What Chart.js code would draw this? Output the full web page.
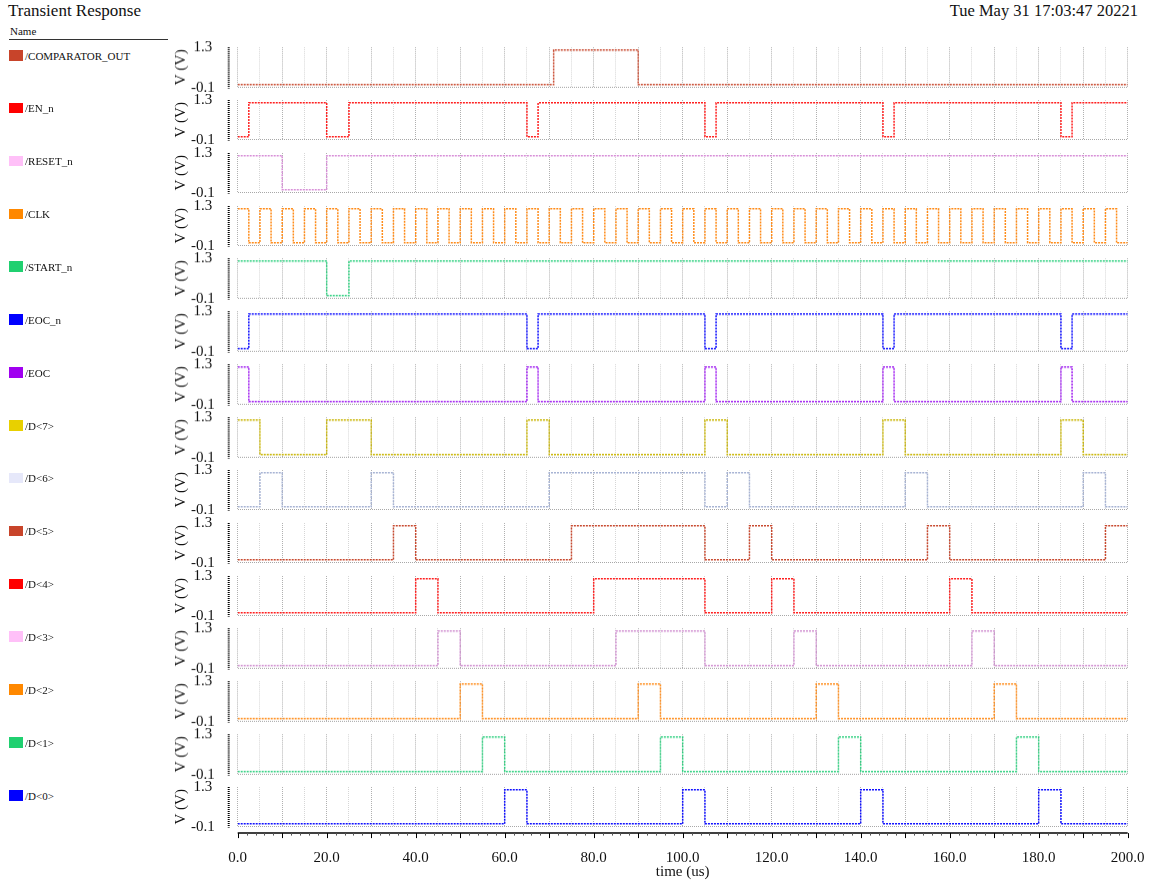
<!DOCTYPE html>
<html>
<head>
<meta charset="utf-8">
<script src="https://cdn.jsdelivr.net/npm/chart.js@4.4.1/dist/chart.umd.min.js"></script>
<style>
  body { margin: 0; background: #fff; font-family: 'Liberation Serif', serif; color: #111; }
  #page { position: relative; width: 1151px; height: 882px; overflow: hidden; }
  .hdr { position: absolute; white-space: nowrap; }
  .sw { position: absolute; left: 9px; width: 14px; height: 10.5px; }
  .lbl { position: absolute; left: 25px; font-size: 11px; line-height: 12px; white-space: nowrap; }
  .panel { position: absolute; left: 150px; width: 1001px; }
</style>
</head>
<body>
<div id="page">
  <div class="hdr" style="left:8px;top:1px;font-size:17px;">Transient Response</div>
  <div class="hdr" style="right:13px;top:1px;font-size:16.5px;">Tue May 31 17:03:47 20221</div>
  <div class="hdr" style="left:10px;top:25px;font-size:11px;">Name</div>
  <div style="position:absolute;left:9px;top:39px;width:159px;height:1px;background:#333;"></div>
</div>
<script>
// tiempos en us, niveles en V
const timeMin = 0;
const timeMax = 200;
const logicLow = 0;
const logicHigh = 1.2;
const voltTicks = [-0.1, 1.3];
const voltGrid = [-0.1, 0.7, 1.3];
const timeTicks = [0, 20, 40, 60, 80, 100, 120, 140, 160, 180, 200];

// intervalos en alto de cada señal [inicio, fin]
const comparatorOutHigh = [[71, 90]];
const enNHigh = [[2.5, 20], [25, 65], [67.5, 105], [107.5, 145], [147.5, 185], [187.5, 200]];
const resetNHigh = [[0, 10], [20, 200]];
const clkHigh = [[0, 2.5], [5, 7.5], [10, 12.5], [15, 17.5], [20, 22.5], [25, 27.5], [30, 32.5], [35, 37.5],
  [40, 42.5], [45, 47.5], [50, 52.5], [55, 57.5], [60, 62.5], [65, 67.5], [70, 72.5], [75, 77.5],
  [80, 82.5], [85, 87.5], [90, 92.5], [95, 97.5], [100, 102.5], [105, 107.5], [110, 112.5], [115, 117.5],
  [120, 122.5], [125, 127.5], [130, 132.5], [135, 137.5], [140, 142.5], [145, 147.5], [150, 152.5], [155, 157.5],
  [160, 162.5], [165, 167.5], [170, 172.5], [175, 177.5], [180, 182.5], [185, 187.5], [190, 192.5], [195, 197.5]];
const startNHigh = [[0, 20], [25, 200]];
const eocNHigh = [[2.5, 65], [67.5, 105], [107.5, 145], [147.5, 185], [187.5, 200]];
const eocHigh = [[0, 2.5], [65, 67.5], [105, 107.5], [145, 147.5], [185, 187.5]];
const d7High = [[0, 5], [20, 30], [65, 70], [105, 110], [145, 150], [185, 190]];
const d6High = [[5, 10], [30, 35], [70, 105], [110, 115], [150, 155], [190, 195]];
const d5High = [[35, 40], [75, 105], [115, 120], [155, 160], [195, 200]];
const d4High = [[40, 45], [80, 105], [120, 125], [160, 165]];
const d3High = [[45, 50], [85, 105], [125, 130], [165, 170]];
const d2High = [[50, 55], [90, 95], [130, 135], [170, 175]];
const d1High = [[55, 60], [95, 100], [135, 140], [175, 180]];
const d0High = [[60, 65], [100, 105], [140, 145], [180, 185]];

const signalNames = ['/COMPARATOR_OUT', '/EN_n', '/RESET_n', '/CLK', '/START_n', '/EOC_n', '/EOC',
  '/D<7>', '/D<6>', '/D<5>', '/D<4>', '/D<3>', '/D<2>', '/D<1>', '/D<0>'];
const signalData = [comparatorOutHigh, enNHigh, resetNHigh, clkHigh, startNHigh, eocNHigh, eocHigh,
  d7High, d6High, d5High, d4High, d3High, d2High, d1High, d0High];

const swatchColors = ['#c8442a', '#ff0000', '#ffc0f8', '#ff8800', '#20d070', '#0000ff', '#a000f0',
  '#e8d000', '#e6e8fa', '#c8442a', '#ff0000', '#ffc0f8', '#ff8800', '#20d070', '#0000ff'];
const lineColors = ['#c84a30', '#ff2020', '#d890d8', '#ff8c1a', '#30d080', '#1010ff', '#a020f0',
  '#c8b400', '#a8b4d4', '#c84a30', '#ff2020', '#d090d0', '#ff8c1a', '#30d080', '#1010ff'];

function toSteps(high) {
  const pts = [];
  let t = timeMin;
  high.forEach(([a, b]) => {
    if (a > t) pts.push({ x: t, y: logicLow });
    pts.push({ x: a, y: logicHigh });
    t = b;
  });
  if (t < timeMax) pts.push({ x: t, y: logicLow });
  pts.push({ x: timeMax, y: pts[pts.length - 1].y });
  return pts;
}

const rulerPlugin = {
  id: 'ruler',
  afterDraw(chart, args, opts) {
    const { ctx, chartArea: a } = chart;
    ctx.save();
    ctx.strokeStyle = '#000';
    ctx.lineWidth = 2;
    ctx.setLineDash([1, 1]);
    ctx.beginPath();
    ctx.moveTo(a.left - 9, a.top);
    ctx.lineTo(a.left - 9, a.bottom + 1);
    ctx.stroke();
    if (opts.bottomAxis) {
      const xs = chart.scales.x;
      const y = a.bottom + 6.5;
      ctx.setLineDash([]);
      ctx.lineWidth = 1.5;
      ctx.beginPath();
      ctx.moveTo(a.left, y);
      ctx.lineTo(a.right, y);
      ctx.stroke();
      ctx.lineWidth = 1;
      for (let t = timeMin; t <= timeMax; t += 2) {
        const px = Math.round(xs.getPixelForValue(t)) + 0.5;
        ctx.strokeStyle = t % 10 === 0 ? '#000' : '#555';
        ctx.beginPath();
        ctx.moveTo(px, y);
        ctx.lineTo(px, y + (t % 10 === 0 ? 5 : 2.5));
        ctx.stroke();
      }
    }
    ctx.restore();
  }
};

const page = document.getElementById('page');
const pitch = 52.86;
const plotH = 39.6;
const font = { family: 'Liberation Serif', size: 15 };

signalNames.forEach((name, i) => {
  const top = 47 + i * pitch;
  const isLast = i === signalNames.length - 1;

  const sw = document.createElement('div');
  sw.className = 'sw';
  sw.style.top = (top + 3) + 'px';
  sw.style.background = swatchColors[i];
  page.appendChild(sw);
  const lb = document.createElement('div');
  lb.className = 'lbl';
  lb.style.top = (top + 2.5) + 'px';
  lb.textContent = name;
  page.appendChild(lb);

  const box = document.createElement('div');
  box.className = 'panel';
  box.style.top = (top - 12) + 'px';
  box.style.height = (isLast ? 882 - (top - 12) : plotH + 24) + 'px';
  const cv = document.createElement('canvas');
  box.appendChild(cv);
  page.appendChild(box);

  new Chart(cv, {
    type: 'line',
    data: {
      datasets: [{
        label: name,
        data: toSteps(signalData[i]),
        stepped: true,
        borderColor: lineColors[i],
        borderWidth: 1.5,
        borderDash: [2, 1],
        pointRadius: 0,
        fill: false
      }]
    },
    options: {
      animation: false,
      responsive: true,
      maintainAspectRatio: false,
      events: [],
      layout: { padding: { top: 12, bottom: isLast ? 0 : 12, left: 22, right: 23.3 } },
      plugins: {
        legend: { display: false },
        tooltip: { enabled: false },
        ruler: { bottomAxis: isLast }
      },
      scales: {
        x: {
          type: 'linear',
          min: timeMin,
          max: timeMax,
          ticks: {
            display: isLast,
            stepSize: 5,
            autoSkip: false,
            maxRotation: 0,
            padding: 22.4,
            font: font,
            color: '#111',
            callback: v => timeTicks.includes(v) ? v.toFixed(1) : ''
          },
          grid: {
            color: c => (c.tick && c.tick.value % 10 === 0) ? '#b0b0b0' : '#d6d6d6',
            drawTicks: false
          },
          border: { display: false, dash: [1, 1] },
          title: { display: isLast, text: 'time (us)', font: font, color: '#111', padding: { top: 0, bottom: 1 } },
          afterFit: s => { s.height = isLast ? 55.4 : 0; s.paddingLeft = 0; s.paddingRight = 0; }
        },
        y: {
          min: -0.1,
          max: 1.3,
          afterBuildTicks: s => { s.ticks = voltGrid.map(v => ({ value: v })); },
          ticks: {
            padding: 23,
            crossAlign: 'center',
            font: font,
            color: '#111',
            callback: v => voltTicks.includes(v) ? v.toFixed(1) : ''
          },
          grid: {
            color: c => (c.tick && c.tick.value === 1.3) ? 'rgba(0,0,0,0)' : '#a8a8a8',
            drawTicks: false
          },
          border: { display: false, dash: [1, 1] },
          title: { display: true, text: 'V (V)', font: font, color: '#111', padding: 0 },
          afterFit: s => { s.width = 65.7; s.paddingTop = 0; s.paddingBottom = 0; }
        }
      }
    },
    plugins: [rulerPlugin]
  });
});
</script>
</body>
</html>
